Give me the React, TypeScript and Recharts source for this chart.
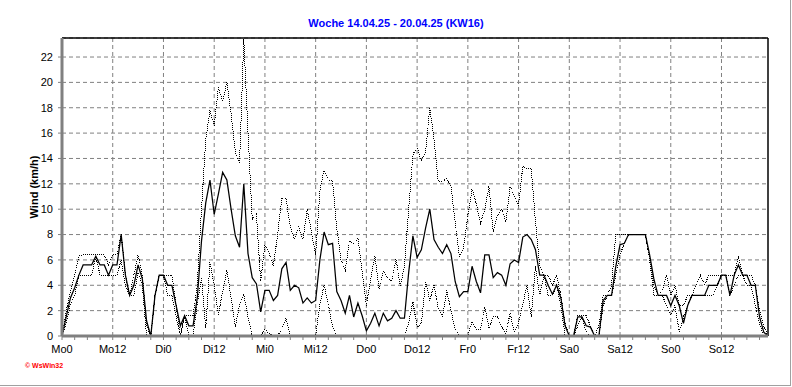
import React from 'react';
import { LineChart, Line, XAxis, YAxis, CartesianGrid, ReferenceLine, Label } from 'recharts';

const title = 'Woche 14.04.25 - 20.04.25 (KW16)';
const yLabel = 'Wind (km/h)';

const windAvg = [
  0, 1.5, 3.0, 3.8, 4.8, 5.6, 5.6, 5.6, 6.3, 5.6,
  5.6, 4.8, 5.6, 5.6, 8.0, 4.8, 3.2, 4.0, 5.6, 4.5,
  1.2, 0, 3.2, 4.8, 4.8, 4.0, 4.0, 2.4, 0.8, 1.6,
  0.8, 0.8, 3.0, 7.5, 10.5, 12.3, 9.6, 11.2, 12.9, 12.3,
  10.0, 7.9, 7.0, 12.0, 6.5, 4.6, 4.1, 1.9, 3.6, 3.6,
  2.8, 3.2, 5.3, 5.8, 3.6, 4.0, 3.8, 2.6, 3.0, 2.6,
  2.8, 6.0, 8.2, 7.2, 7.3, 3.5, 2.8, 1.8, 3.2, 1.5,
  2.6, 1.6, 0.4, 1.0, 1.8, 0.8, 1.8, 1.2, 1.4, 2.0,
  1.4, 1.4, 5.0, 7.9, 6.2, 6.8, 8.5, 10.0, 7.6, 7.0,
  6.5, 7.2, 6.5, 4.3, 3.1, 3.5, 3.5, 5.5, 4.3, 3.4,
  6.4, 6.4, 4.6, 5.0, 4.8, 4.0, 5.7, 6.0, 5.8, 7.8,
  8.0, 7.6, 6.8, 4.8, 4.8, 4.0, 3.3, 4.0, 3.0, 0.8,
  0, 0, 1.5, 1.5, 0.8, 0.7, 0, 0, 2.8, 3.2,
  3.2, 5.5, 7.2, 7.3, 8.0, 8.0, 8.0, 8.0, 8.0, 6.4,
  4.5, 3.2, 3.2, 3.2, 2.4, 3.2, 2.4, 1.0, 2.4, 3.2,
  3.2, 3.2, 3.2, 4.0, 4.0, 4.0, 4.8, 4.8, 3.2, 4.8,
  5.6, 4.8, 4.8, 4.0, 4.0, 1.5, 0.3, 0,
];

const windMax = [
  0, 2.0, 3.5, 4.8, 6.3, 6.4, 6.4, 6.4, 6.4, 6.4,
  6.4, 5.6, 6.4, 6.4, 8.0, 4.8, 3.2, 4.8, 6.4, 4.8,
  0.8, 0, 3.2, 4.8, 4.8, 4.8, 4.8, 2.4, 0, 1.6,
  1.6, 1.6, 4.0, 10.0, 15.5, 17.8, 16.6, 19.6, 18.5, 20.0,
  17.5, 14.5, 13.6, 23.4, 16.0, 9.2, 9.6, 4.3, 7.2, 6.5,
  5.5, 8.0, 10.9, 10.8, 8.6, 7.6, 8.6, 7.6, 10.0, 8.2,
  6.4, 11.5, 13.1, 12.3, 12.2, 8.5, 6.0, 5.2, 7.5, 7.3,
  7.7, 5.0, 2.4, 4.5, 6.3, 3.7, 5.1, 4.6, 4.3, 6.1,
  3.9, 5.5, 10.0, 14.3, 14.9, 13.8, 14.5, 18.0, 15.5, 12.2,
  12.2, 12.4, 11.8, 9.0, 6.2, 7.0, 9.5, 11.6, 10.4, 8.9,
  10.0, 11.8, 8.2, 9.5, 10.0, 9.0, 11.8, 11.0, 10.3, 13.4,
  13.2, 13.2, 9.0, 5.5, 4.8, 4.8, 4.0, 4.8, 3.2, 1.0,
  0, 0, 1.6, 1.6, 1.6, 0.8, 0, 0.8, 3.2, 3.2,
  4.0, 8.0, 8.0, 8.0, 8.0, 8.0, 8.0, 8.0, 8.0, 6.0,
  4.0, 3.2, 3.6, 4.8, 3.2, 4.0, 2.4, 2.4, 3.2, 3.2,
  4.0, 4.8, 4.0, 4.8, 4.8, 4.8, 4.8, 4.8, 4.8, 4.8,
  6.3, 4.8, 4.8, 4.8, 4.0, 2.0, 0.8, 0,
];

const windMin = [
  0, 1.0, 2.5, 3.2, 4.8, 4.8, 4.8, 4.8, 6.3, 4.8,
  4.8, 4.8, 4.8, 4.8, 6.0, 4.0, 3.2, 3.2, 5.0, 4.0,
  0, 0, 3.2, 4.8, 4.8, 3.2, 3.2, 1.5, 0, 1.6,
  0, 0, 2.5, 4.6, 0.6, 5.8, 4.0, 1.7, 3.5, 5.2,
  3.0, 0.7, 2.5, 3.3, 1.5, 0, 0, 0, 0.5, 0.2,
  0, 0, 0.6, 1.4, 0, 0, 0, 0, 0, 0,
  0, 2.5, 4.0, 2.5, 0.7, 0, 0, 0, 0, 0,
  0, 0, 0, 0, 0, 0, 0, 0, 0, 0,
  0, 0, 1.0, 2.7, 0.7, 1.0, 4.3, 2.8, 4.0, 2.2,
  1.5, 3.6, 2.0, 0.5, 0, 0, 0, 1.2, 0.5, 0.5,
  2.3, 0.6, 1.5, 1.5, 0.7, 0.2, 1.8, 0.3, 1.0, 2.5,
  4.0, 1.5, 5.5, 3.2, 4.8, 3.2, 3.2, 4.0, 2.4, 0,
  0, 0, 0.8, 1.5, 0.3, 0, 0, 0, 2.4, 3.2,
  3.2, 4.8, 6.4, 7.3, 8.0, 8.0, 8.0, 8.0, 8.0, 6.0,
  3.2, 3.2, 3.2, 2.4, 1.6, 2.4, 0.3, 1.5, 2.4, 3.2,
  3.2, 3.2, 3.2, 3.2, 3.2, 4.0, 4.8, 4.8, 3.2, 4.0,
  4.8, 4.8, 4.0, 4.0, 2.4, 1.0, 0, 0,
];

const majorTickHours = [0, 12, 24, 36, 48, 60, 72, 84, 96, 108, 120, 132, 144, 156];
const majorTickLabels = ['Mo0', 'Mo12', 'Di0', 'Di12', 'Mi0', 'Mi12', 'Do0', 'Do12', 'Fr0', 'Fr12', 'Sa0', 'Sa12', 'So0', 'So12'];
const minorTickHours = [
  0, 3, 6, 9, 12, 15, 18, 21, 24, 27, 30, 33, 36, 39, 42, 45, 48, 51, 54, 57,
  60, 63, 66, 69, 72, 75, 78, 81, 84, 87, 90, 93, 96, 99, 102, 105, 108, 111, 114, 117,
  120, 123, 126, 129, 132, 135, 138, 141, 144, 147, 150, 153, 156, 159, 162, 165,
];
const yTicks = [0, 2, 4, 6, 8, 10, 12, 14, 16, 18, 20, 22];
const xMax = 167;
const yMax = 23.5;

const data = windAvg.map((v, i) => ({ h: i, avg: v, max: windMax[i], min: windMin[i] }));

const font = '"Liberation Sans", Arial, sans-serif';

export default function App() {
  return (
    <div
      style={{
        position: 'absolute',
        left: 0,
        top: 0,
        width: 790,
        height: 385,
        background: '#fff',
        borderRight: '1px solid #a0a0a0',
        borderBottom: '1px solid #a0a0a0',
        fontFamily: font,
      }}
    >
      <div
        style={{
          position: 'absolute',
          left: 0,
          top: 17,
          width: 792,
          textAlign: 'center',
          color: '#0000ff',
          fontWeight: 'bold',
          fontSize: 11,
          lineHeight: '13px',
        }}
      >
        {title}
      </div>
      <div
        style={{
          position: 'absolute',
          left: 25,
          top: 362,
          color: '#ff0000',
          fontWeight: 'bold',
          fontSize: 7,
          lineHeight: '8px',
        }}
      >
        © WsWin32
      </div>
      <div style={{ position: 'absolute', left: 0, top: 0 }}>
        <LineChart width={792} height={387} data={data} margin={{ top: 38, right: 24, bottom: 21, left: 0 }}>
          <CartesianGrid vertical={false} stroke="#808080" strokeDasharray="4 3" />
          {majorTickHours.slice(1).map((h) => (
            <ReferenceLine key={h} x={h} stroke="#808080" strokeDasharray="4 3" />
          ))}
          <ReferenceLine y={yMax} stroke="#000" strokeWidth={1.5} />
          <ReferenceLine x={xMax} stroke="#000" strokeWidth={1.5} />
          <XAxis
            dataKey="h"
            type="number"
            domain={[0, xMax]}
            ticks={minorTickHours}
            interval={0}
            height={30}
            axisLine={{ stroke: '#808080', strokeWidth: 3 }}
            tickLine={{ stroke: '#808080' }}
            tickSize={4}
            tickMargin={5}
            tick={{ fill: '#000', fontSize: 11, fontFamily: font }}
            tickFormatter={(v: number) => {
              const idx = majorTickHours.indexOf(v);
              return idx >= 0 ? majorTickLabels[idx] : '';
            }}
          />
          <YAxis
            type="number"
            domain={[0, yMax]}
            ticks={yTicks}
            interval={0}
            width={62}
            allowDataOverflow
            axisLine={{ stroke: '#808080', strokeWidth: 3 }}
            tickLine={{ stroke: '#808080' }}
            tickSize={4}
            tickMargin={5}
            tick={{ fill: '#000', fontSize: 11, fontFamily: font }}
          >
            <Label
              value={yLabel}
              angle={-90}
              position="center"
              dx={3}
              style={{ fontWeight: 'bold', fontSize: 11, fontFamily: font, fill: '#000' }}
            />
          </YAxis>
          <Line type="linear" dataKey="max" stroke="#000" strokeWidth={1} strokeDasharray="1 1" shapeRendering="crispEdges" dot={false} isAnimationActive={false} />
          <Line type="linear" dataKey="min" stroke="#000" strokeWidth={1} strokeDasharray="1 1" shapeRendering="crispEdges" dot={false} isAnimationActive={false} />
          <Line type="linear" dataKey="avg" stroke="#000" strokeWidth={1.25} dot={false} isAnimationActive={false} />
        </LineChart>
      </div>
    </div>
  );
}
